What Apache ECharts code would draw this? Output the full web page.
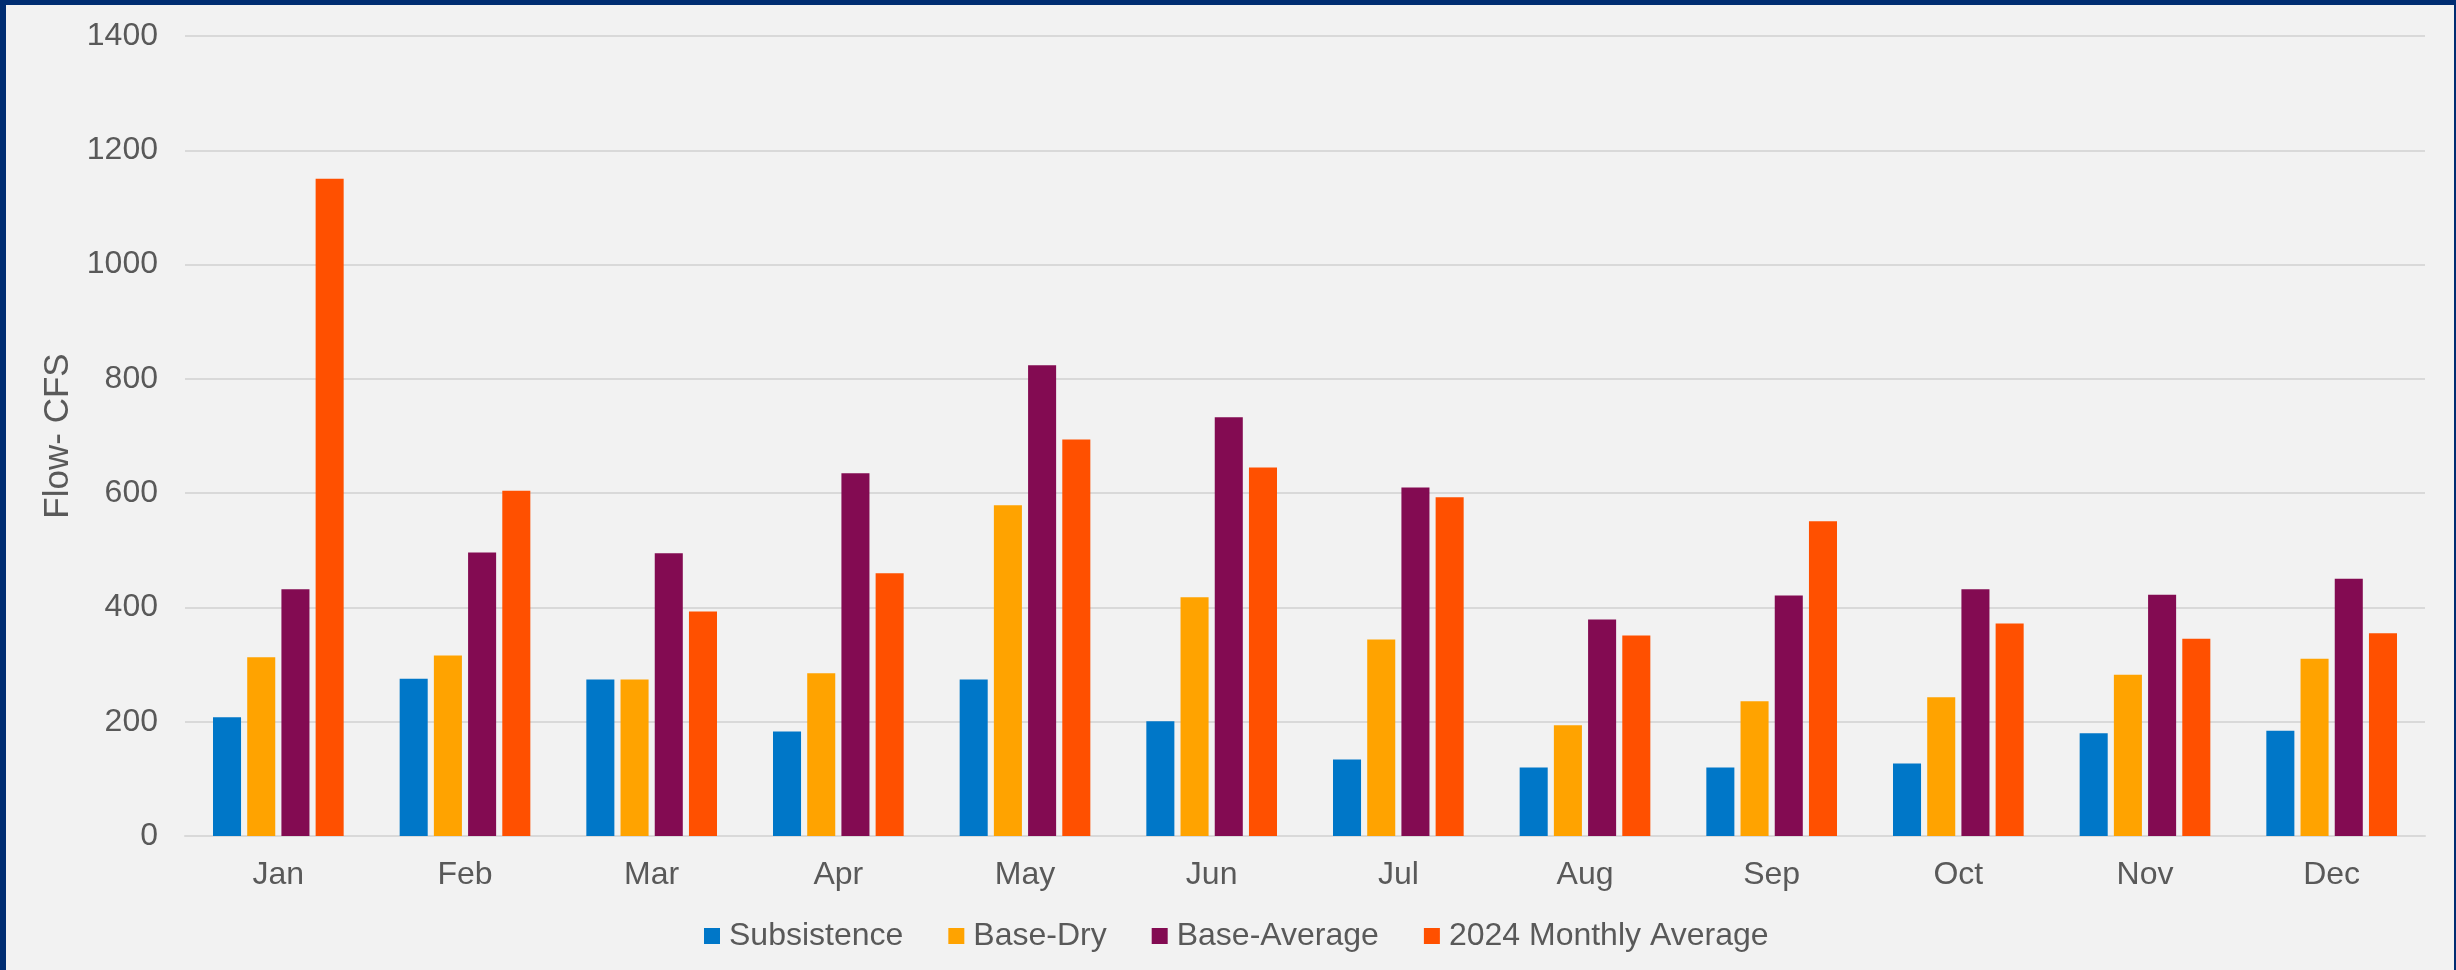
<!DOCTYPE html>
<html>
<head>
<meta charset="utf-8">
<script src="https://cdn.jsdelivr.net/npm/echarts@6/dist/echarts.min.js"></script>
<style>
  html, body { margin: 0; padding: 0; background: #F2F2F2; }
  #chart { position: absolute; left: 0; top: 0; width: 2456px; height: 970px; }
  #frame { position: absolute; left: 0; top: 0; width: 2456px; height: 970px; box-sizing: border-box;
           border-left: 6px solid #002D72; border-top: 5px solid #002D72; border-right: 2px solid #002D72;
           pointer-events: none; }
</style>
</head>
<body>
<div id="chart"></div>
<div id="frame"></div>
<script>
const categories = ['Jan','Feb','Mar','Apr','May','Jun','Jul','Aug','Sep','Oct','Nov','Dec'];
const subsistence = [208, 275, 274, 183, 274, 201, 134, 120, 120, 127, 180, 184];
const baseDry = [313, 316, 274, 285, 579, 418, 344, 194, 236, 243, 282, 310];
const baseAverage = [432, 496, 495, 635, 824, 733, 610, 379, 421, 432, 422, 450];
const monthly2024 = [1150, 604, 393, 460, 694, 645, 593, 351, 551, 372, 345, 355];
const seriesNames = ['Subsistence', 'Base-Dry', 'Base-Average', '2024 Monthly Average'];
const yTicks = { min: 0, max: 1400, interval: 200 };
const colors = ['#0077C8', '#FFA300', '#830B52', '#FF5000'];

const chart = echarts.init(document.getElementById('chart'), null, { renderer: 'canvas' });
const font = '"Liberation Sans", Arial, sans-serif';
const dataSets = [subsistence, baseDry, baseAverage, monthly2024];

chart.setOption({
  backgroundColor: '#F2F2F2',
  animation: false,
  color: colors,
  textStyle: { fontFamily: font },
  grid: { left: 185, right: 31, top: 36, bottom: 134, containLabel: false },
  legend: {
    data: seriesNames,
    left: 704,
    top: 920,
    padding: 0,
    itemWidth: 16,
    itemHeight: 16,
    itemGap: 45,
    icon: 'rect',
    textStyle: { fontSize: 32, color: '#595959', fontFamily: font, lineHeight: 32, padding: [0, 0, 0, 4] }
  },
  xAxis: {
    type: 'category',
    data: categories,
    axisLine: { lineStyle: { color: '#D9D9D9', width: 2 } },
    axisTick: { show: false },
    axisLabel: { fontSize: 32, color: '#595959', margin: 23, fontFamily: font }
  },
  yAxis: {
    type: 'value',
    min: yTicks.min,
    max: yTicks.max,
    interval: yTicks.interval,
    name: 'Flow- CFS',
    nameLocation: 'middle',
    nameGap: 94,
    nameTextStyle: { fontSize: 35, color: '#595959', fontFamily: font },
    axisLine: { show: false },
    axisTick: { show: false },
    axisLabel: { fontSize: 32, color: '#595959', margin: 27, fontFamily: font, formatter: v => String(v) },
    splitLine: { lineStyle: { color: '#D9D9D9', width: 2 } }
  },
  series: seriesNames.map((name, i) => ({
    name: name,
    type: 'bar',
    data: dataSets[i],
    barGap: '22%',
    barCategoryGap: '30%',
    itemStyle: { color: colors[i] }
  }))
});
</script>
</body>
</html>
